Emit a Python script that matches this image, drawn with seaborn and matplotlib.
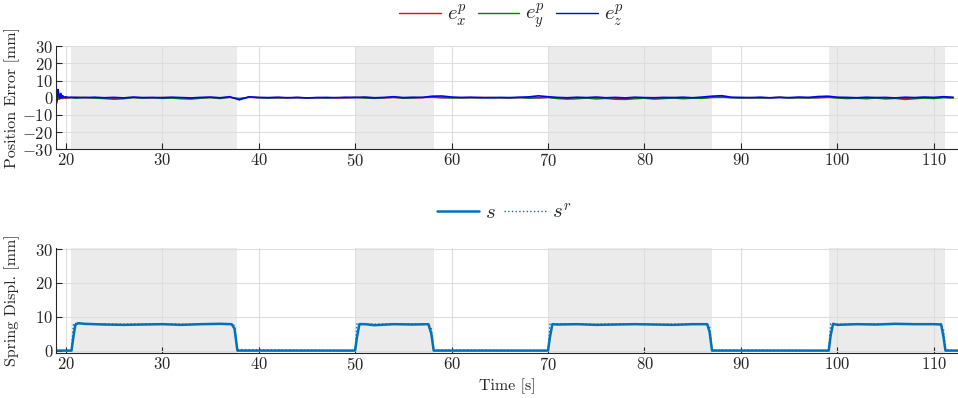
import numpy as np
import pandas as pd
import seaborn as sns
import matplotlib
matplotlib.use("Agg")
import matplotlib.pyplot as plt

# ---- data ----
shade_spans = [(20.6, 37.8), (50.0, 58.15), (70.0, 87.0), (99.1, 111.2)]

t_err = [19.0, 19.1, 19.2, 19.3, 19.4, 19.5, 19.6, 19.7, 19.8, 20.0, 20.3, 20.6] + list(range(21, 113))
e_x = [0.0, -3.0, 1.5, -1.0, 0.5, -0.5, 0.3, -0.6, 0.0, -0.4, 0.1, 0.0,
       0.2, 0.1, -0.1, 0.0, -0.3, -0.2, 0.1, 0.0, -0.1, 0.2,
       0.1, -0.2, -0.3, 0.0, 0.1, -0.1, 0.2, -0.4, 0.3, 0.1,
       0.0, -0.1, 0.1, 0.0, -0.1, 0.1, 0.0, 0.1, -0.1, 0.2,
       0.1, 0.0, -0.1, 0.2, 0.0, -0.1, 0.1, 0.3, 0.0, 0.1,
       -0.1, 0.0, 0.2, 0.1, 0.0, -0.1, 0.1, 0.0, -0.1, 0.2,
       -0.2, -0.4, -0.3, 0.0, -0.2, -0.1, -0.3, -0.5, -0.2, 0.0,
       -0.3, -0.1, 0.1, -0.2, 0.0, -0.1, 0.2, 0.3, 0.1, 0.0,
       -0.1, 0.1, 0.0, 0.2, -0.1, 0.0, 0.1, 0.0, 0.2, 0.1,
       -0.1, 0.0, -0.2, 0.1, -0.3, -0.1, -0.5, -0.2, 0.0, -0.1,
       0.2, 0.0]
e_y = [0.0, -1.0, 1.0, -0.5, 0.8, 0.2, 0.5, -0.2, 0.3, 0.0, 0.2, 0.1,
       -0.3, 0.2, -0.2, -0.5, -0.9, -0.6, 0.1, -0.3, 0.0, -0.4,
       -0.2, -0.6, -0.8, -0.3, 0.1, -0.5, 0.3, -0.7, 0.4, 0.0,
       -0.2, 0.1, -0.1, 0.2, -0.1, 0.0, -0.2, 0.1, 0.0, 0.3,
       -0.2, -0.4, 0.0, 0.2, -0.3, -0.1, 0.2, 0.4, 0.1, -0.1,
       0.0, 0.1, -0.1, 0.2, 0.0, -0.1, 0.1, -0.2, 0.0, 0.2,
       -0.5, -0.8, -0.6, -0.2, -0.7, -0.4, -0.9, -1.0, -0.6, -0.3,
       -0.8, -0.5, -0.2, -0.6, -0.3, -0.4, 0.2, 0.5, 0.0, -0.1,
       0.1, -0.2, 0.0, 0.3, -0.1, 0.0, -0.2, 0.1, 0.4, -0.2,
       -0.5, -0.3, -0.6, -0.2, -0.7, -0.4, -1.0, -0.6, -0.2, -0.5,
       0.1, -0.1]
e_z = [0.0, -1.5, 4.8, 2.0, -0.5, 2.5, 0.3, 1.2, 0.2, 0.6, 0.1, 0.3,
       0.2, 0.1, 0.3, 0.0, 0.2, -0.1, 0.4, 0.1, 0.2, 0.0,
       0.3, 0.1, -0.1, 0.2, 0.4, 0.0, 0.6, -1.2, 0.5, 0.2,
       0.1, 0.3, 0.0, 0.2, -0.1, 0.1, 0.2, 0.0, 0.3, 0.1,
       0.4, 0.0, 0.2, 0.6, 0.1, 0.3, 0.2, 0.9, 1.0, 0.4,
       0.2, 0.3, 0.1, 0.0, 0.2, 0.1, 0.3, 0.5, 1.1, 0.6,
       0.2, 0.0, 0.3, 0.1, 0.4, 0.0, 0.2, -0.1, 0.3, 0.1,
       0.0, 0.2, 0.1, 0.3, 0.0, 0.4, 0.9, 1.2, 0.3, 0.2,
       0.1, 0.3, 0.0, 0.2, 0.1, 0.4, 0.2, 0.7, 0.9, 0.3,
       0.2, 0.0, 0.3, 0.1, 0.2, -0.1, 0.3, 0.1, 0.4, 0.2,
       0.6, 0.3]

t_s = [19.0, 20.6, 20.8, 21.0, 21.3, 22.0, 24.0, 26.0, 28.0, 30.0, 32.0, 34.0, 36.0, 37.2, 37.5, 37.8,
       50.0, 50.2, 50.45, 51.0, 52.0, 54.0, 56.0, 57.6, 57.9, 58.15,
       70.0, 70.2, 70.45, 71.0, 73.0, 75.0, 77.0, 79.0, 81.0, 83.0, 85.0, 86.5, 86.75, 87.0,
       99.1, 99.3, 99.55, 100.0, 102.0, 104.0, 106.0, 108.0, 110.0, 110.75, 111.0, 111.2, 112.5]
s = [0.0, 0.0, 4.0, 7.6, 8.1, 7.9, 7.7, 7.6, 7.7, 7.8, 7.6, 7.8, 7.9, 7.8, 6.5, 0.0,
     0.0, 4.0, 7.8, 7.8, 7.5, 7.8, 7.7, 7.8, 5.0, 0.0,
     0.0, 4.0, 7.8, 7.7, 7.8, 7.6, 7.7, 7.8, 7.7, 7.6, 7.8, 7.8, 5.5, 0.0,
     0.0, 4.5, 7.9, 7.6, 7.8, 7.7, 7.9, 7.8, 7.8, 7.7, 4.0, 0.0, 0.0]
s_r = [0.0, 0.0, 7.9, 8.0, 8.0, 7.9, 7.9, 7.8, 7.9, 7.9, 7.8, 7.9, 8.0, 7.9, 7.4, 0.3,
       0.0, 7.9, 8.0, 7.9, 7.8, 7.9, 7.9, 7.9, 6.5, 0.2,
       0.0, 7.8, 7.9, 7.9, 7.9, 7.8, 7.9, 7.9, 7.8, 7.8, 7.9, 7.9, 7.0, 0.2,
       0.0, 7.9, 8.0, 7.8, 7.9, 7.9, 8.0, 7.9, 7.9, 7.9, 6.0, 0.2, 0.0]

x_ticks = list(range(20, 111, 10))

err = pd.DataFrame({"t": t_err, "ex": e_x, "ey": e_y, "ez": e_z})
spr = pd.DataFrame({"t": t_s, "s": s, "sr": s_r})

sns.set_theme(style="white")
plt.rcParams["font.family"] = "serif"
plt.rcParams["font.serif"] = ["cmr10", "DejaVu Serif"]
plt.rcParams["mathtext.fontset"] = "cm"
plt.rcParams["axes.formatter.use_mathtext"] = True
plt.rcParams["axes.unicode_minus"] = True

fig = plt.figure(figsize=(9.58, 3.98), dpi=100)
ax1 = fig.add_axes([0.0585, 0.6244, 0.9415, 0.26])
ax2 = fig.add_axes([0.0585, 0.1123, 0.9415, 0.2646])

txt = "#262626"
for ax in (ax1, ax2):
    for a, b in shade_spans:
        ax.axvspan(a, b, color="#ebebeb", lw=0, zorder=0.2)
    ax.grid(True, color="#dedede", lw=0.8, zorder=0.5)
    ax.set_axisbelow(True)
    ax.set_xlim(19, 112.5)
    ax.set_xticks(x_ticks)
    for side in ("top", "right"):
        ax.spines[side].set_visible(False)
    for side in ("left", "bottom"):
        ax.spines[side].set_color(txt)
        ax.spines[side].set_linewidth(0.8)
    ax.tick_params(direction="in", length=4, width=0.8, colors=txt, labelsize=12,
                   left=True, bottom=True, pad=2)

sns.lineplot(data=err, x="t", y="ex", ax=ax1, color="#ff0000", lw=1.0, label=r"$e^p_x$")
sns.lineplot(data=err, x="t", y="ey", ax=ax1, color="#008000", lw=1.0, label=r"$e^p_y$")
sns.lineplot(data=err, x="t", y="ez", ax=ax1, color="#0000ff", lw=1.2, label=r"$e^p_z$")
ax1.set_ylim(-30, 30)
ax1.set_yticks(range(-30, 31, 10))
ax1.set_xlabel("")
ax1.set_ylabel("Position Error [mm]", fontsize=11.5, color=txt)
ax1.yaxis.set_label_coords(-0.04, 0.5)
leg1 = ax1.legend(ncol=3, loc="center", bbox_to_anchor=(0.505, 1.28), frameon=False,
                  fontsize=15, handlelength=2.0, columnspacing=0.5, handletextpad=0.3)
for h in leg1.get_lines():
    h.set_linewidth(1.0)

sns.lineplot(data=spr, x="t", y="s", ax=ax2, color="#0072BD", lw=1.8, label=r"$s$")
sns.lineplot(data=spr, x="t", y="sr", ax=ax2, color="#0072BD", lw=1.0, ls=":", label=r"$s^r$")
ax2.set_ylim(-0.8, 30.3)
ax2.set_yticks(range(0, 31, 10))
ax2.set_xlabel("Time [s]", fontsize=11.5, color=txt)
ax2.set_ylabel("Spring Displ. [mm]", fontsize=11.5, color=txt)
ax2.yaxis.set_label_coords(-0.04, 0.5)
ax2.legend(ncol=2, loc="center", bbox_to_anchor=(0.497, 1.34), frameon=False,
           fontsize=15, handlelength=2.0, columnspacing=0.4, handletextpad=0.3)

fig.savefig("out.png", dpi=100)
